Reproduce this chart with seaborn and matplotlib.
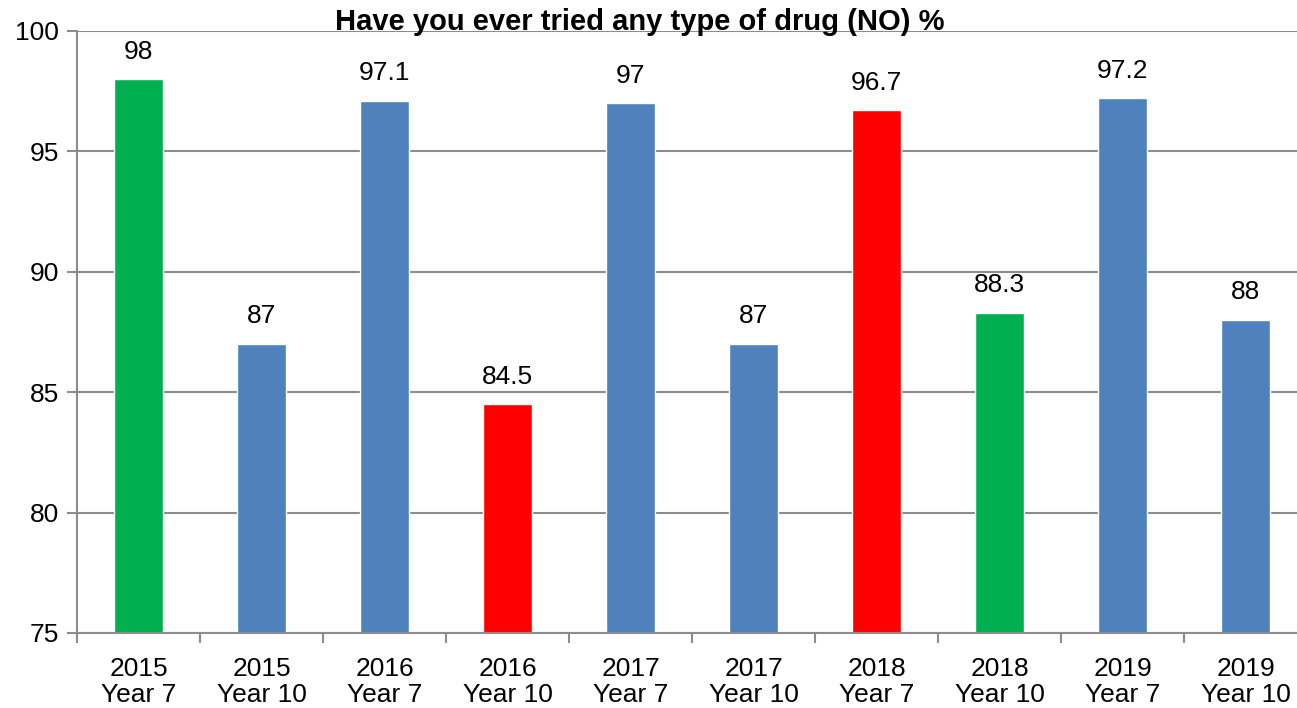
import matplotlib
matplotlib.use("Agg")
import matplotlib.pyplot as plt
import seaborn as sns
import pandas as pd

categories = ["2015\nYear 7", "2015\nYear 10", "2016\nYear 7", "2016\nYear 10", "2017\nYear 7",
              "2017\nYear 10", "2018\nYear 7", "2018\nYear 10", "2019\nYear 7", "2019\nYear 10"]
values = [98, 87, 97.1, 84.5, 97, 87, 96.7, 88.3, 97.2, 88]
value_labels = ["98", "87", "97.1", "84.5", "97", "87", "96.7", "88.3", "97.2", "88"]
highlight = ["green", "blue", "blue", "red", "blue", "blue", "red", "green", "blue", "blue"]
palette = {"green": "#00B050", "blue": "#4F81BD", "red": "#FF0000"}
title = "Have you ever tried any type of drug (NO) %"

sns.set_theme(style="white")
plt.rcParams['font.family'] = ['Liberation Sans', 'DejaVu Sans']
plt.rcParams['text.color'] = 'black'
plt.rcParams['xtick.labelcolor'] = 'black'
plt.rcParams['ytick.labelcolor'] = 'black'

df = pd.DataFrame({"cat": categories, "val": values, "hl": highlight})

fig = plt.figure(figsize=(12.97, 7.08), dpi=100)
ax = fig.add_axes([77/1297, 75/708, 1230/1297, 602/708])

sns.barplot(data=df, x="cat", y="val", hue="hl", palette=palette, dodge=False,
            width=0.406, legend=False, ax=ax, saturation=1, order=categories)

ax.set_ylim(75, 100)
ax.set_xlim(-0.5, len(categories) - 0.5)
ax.set_yticks([75, 80, 85, 90, 95, 100])
ax.yaxis.grid(True, color="#8c8c8c", linewidth=1.5)
ax.set_axisbelow(True)
ax.set_xlabel("")
ax.set_ylabel("")

for s in ["top", "right"]:
    ax.spines[s].set_visible(False)
for s in ["left", "bottom"]:
    ax.spines[s].set_color("#8c8c8c")
    ax.spines[s].set_linewidth(1.5)

ax.set_xticks(range(len(categories)))
ax.set_xticklabels(categories, fontsize=19, linespacing=1.1, color="black")
ax.tick_params(axis="x", length=0, pad=17)
ax.set_xticks([i - 0.5 for i in range(len(categories) + 1)], minor=True)
ax.tick_params(axis="x", which="minor", length=7, width=1.5, color="#8c8c8c", direction="out", bottom=True)
ax.tick_params(axis="y", labelsize=19, labelcolor="black", length=7, width=1.5, color="#8c8c8c", left=True, pad=6)

for i, (v, lab) in enumerate(zip(values, value_labels)):
    ax.text(i, v + 0.65, lab, ha="center", va="bottom", fontsize=19, color="black")

fig.text(640/1297, 1 - 22/708, title, ha="center", va="center", fontsize=21,
         fontweight="bold", color="black")

fig.savefig("out.png", dpi=100)
